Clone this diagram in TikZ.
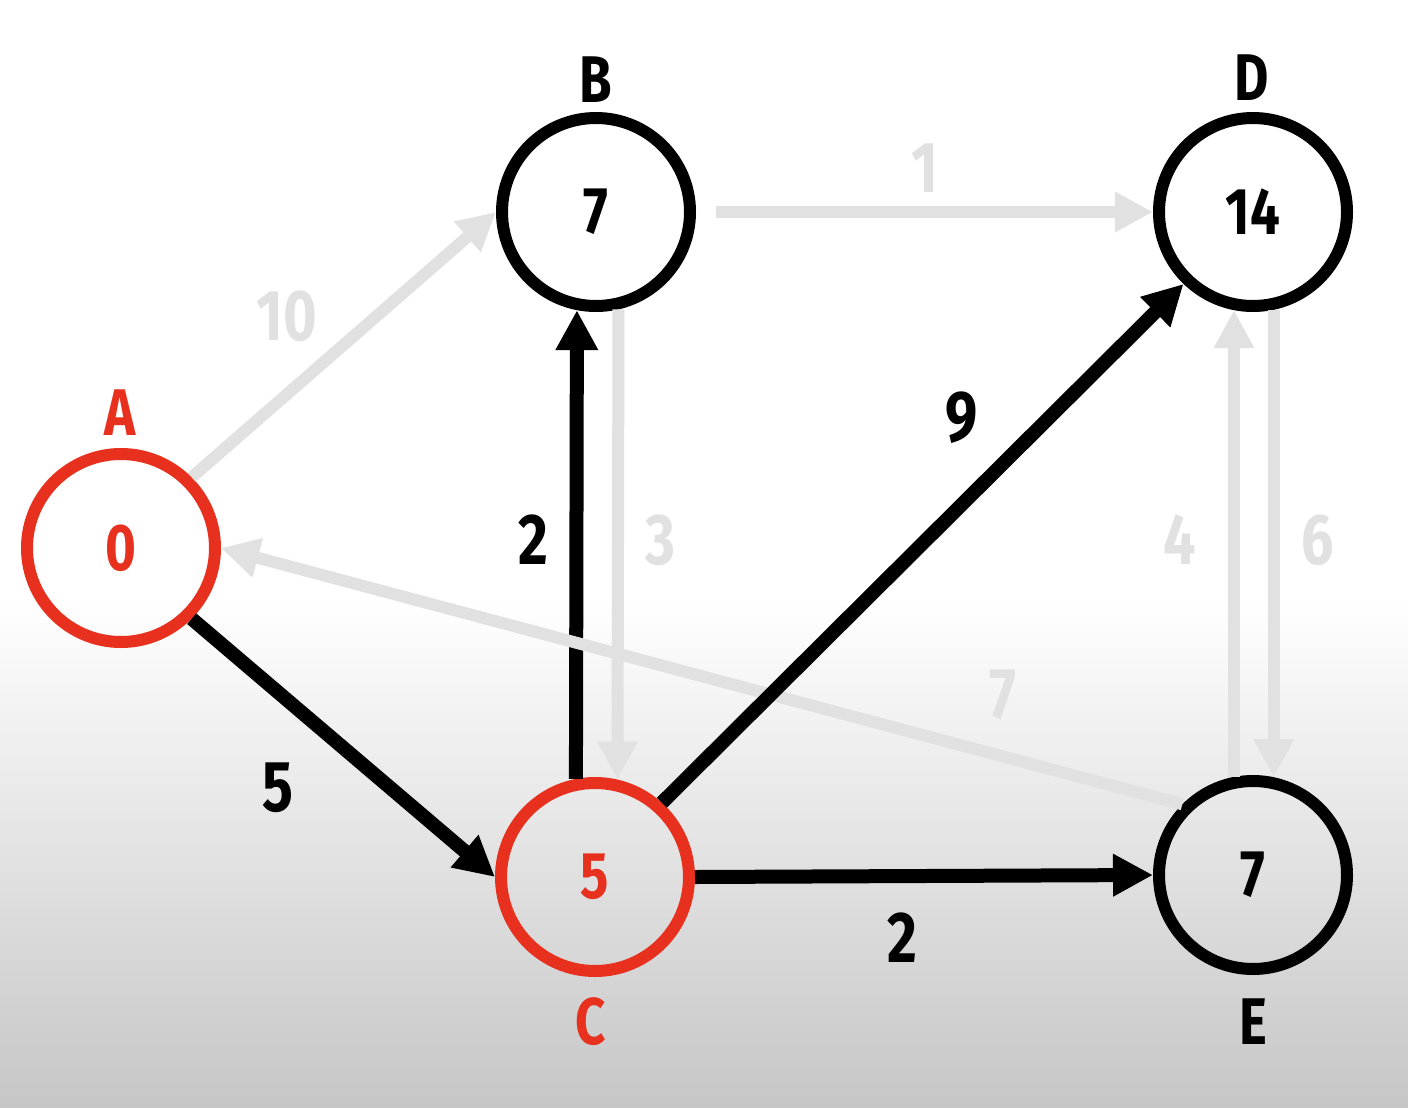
\documentclass[tikz,border=0pt]{standalone}
\usepackage{fontspec}
\setmainfont{Fira Sans}[FakeStretch=0.8]
\usetikzlibrary{arrows.meta}
\definecolor{redA}{RGB}{232,48,30}
\definecolor{lgray}{RGB}{225,225,225}
\definecolor{bgbot}{RGB}{198,198,198}
\begin{document}
\begin{tikzpicture}[x=0.5pt,y=-0.5pt,
  vert/.style={circle, draw=black, line width=6pt, minimum size=94pt, inner sep=0pt, font=\fontsize{33}{36}\selectfont\bfseries},
  redvert/.style={vert, draw=redA, text=redA},
  nlab/.style={font=\fontsize{33}{36}\selectfont\bfseries, inner sep=0pt},
  wlab/.style={font=\fontsize{36}{40}\selectfont\bfseries, inner sep=0pt},
  done/.style={line width=7pt, draw=black, -{Triangle[length=20pt,width=20pt]}},
  faded/.style={line width=6pt, draw=lgray, -{Triangle[length=19pt,width=19pt]}},
]
% background
\fill[white] (0,0) rectangle (1408,1108);
\shade[top color=white, bottom color=bgbot] (0,600) rectangle (1408,1108);
\useasboundingbox (0,0) rectangle (1408,1108);

% vertices
\node[redvert] (A) at (121,548) {0};
\node[vert] (B) at (596,212) {7};
\node[vert] (D) at (1253,212) {14};
\node[redvert] (C) at (595,877) {5};
\node[vert] (E) at (1253,875) {7};

% vertex names
\node[nlab, text=redA] (nA) at (120,413) {A};
\node[nlab] (nB) at (596,80) {B};
\node[nlab] (nD) at (1252,78) {D};
\node[nlab, text=redA] (nC) at (591,1022) {C};
\node[nlab] (nE) at (1253,1022) {E};

% faded edges
\draw[faded] (A.45) -- (B.west);
\draw[faded, shorten <=10pt] (B.east) -- (D.west);
\draw[faded] (B.-77) -- (C.77);
\draw[faded] (E.101) -- (D.-101);
\draw[faded] (D.-78) -- (E.78);

% chosen edges
\draw[done] (C.101) -- (B.-101);
\draw[faded] (E.135) -- (A.east);
\draw[done] (A.-45) -- (C.west);
\draw[done] (C.48) -- (D.-134);
\draw[done] (C.east) -- (E.west);

% weights
\node[wlab, text=lgray] (w10) at (287,316) {10};
\node[wlab, text=lgray] (w1) at (925,168) {1};
\node[wlab, text=lgray] (w3) at (660,540) {3};
\node[wlab] (w2a) at (533,540) {2};
\node[wlab] (w5) at (278,788) {5};
\node[wlab] (w9) at (962,418) {9};
\node[wlab] (w2b) at (902,938) {2};
\node[wlab, text=lgray] (w7) at (1003,695) {7};
\node[wlab, text=lgray] (w4) at (1180,540) {4};
\node[wlab, text=lgray] (w6) at (1318,540) {6};
\end{tikzpicture}
\end{document}
